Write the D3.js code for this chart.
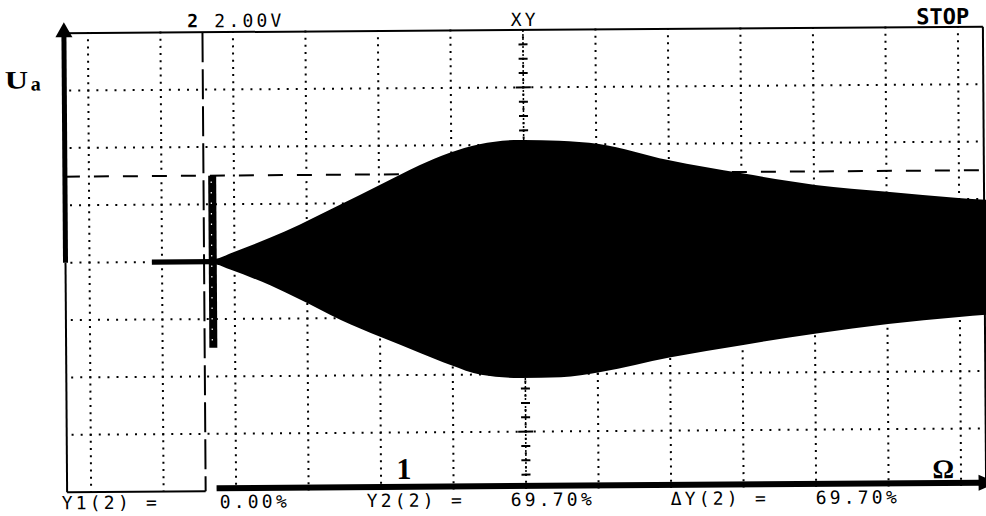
<!DOCTYPE html>
<html>
<head>
<meta charset="utf-8">
<script src="https://cdn.jsdelivr.net/npm/d3@7"></script>
<style>
  body { margin: 0; background: #fff; }
  svg { display: block; }
</style>
</head>
<body>
<script>
// screen divisions (x) and volts (y, 2.00 V/div)
var gridCols = d3.range(0, 13);
var gridRows = [-6, -4, -2, 0, 2, 4, 6];

// envelope of the response
var freqDiv  = [0.86, 1.71, 1.746, 1.94, 2.49, 2.90, 3.46, 4.01, 4.56, 4.97, 5.39, 5.94, 6.49, 7.04, 7.99, 9.01, 10.02, 11.01, 11.99, 12.37, 12.55];
var ampUpper = [0.09, 0.09, 0.10, 0.28, 0.82, 1.27, 1.95, 2.63, 3.31, 3.73, 4.03, 4.17, 4.13, 4.01, 3.43, 2.95, 2.53, 2.27, 2.04, 1.97, 1.95];
var ampLower = [0.09, 0.09, 0.10, 0.28, 0.84, 1.34, 2.06, 2.67, 3.24, 3.66, 4.01, 4.13, 4.11, 3.94, 3.45, 3.03, 2.65, 2.34, 2.11, 2.04, 2.02];

// cursors
var cursorLevel = 3.0;     // horizontal dashed cursor, V
var cursorPos = 1.58;      // vertical dashed cursor, div
var xyPos = 6;             // XY cursor, div
var markerPos = 1.70;      // start marker, div
var markerSpan = [-3, 3];  // V

var readouts = ["Y1(2) =", "0.00%", "Y2(2) =", "69.70%", "\u0394Y(2) =", "69.70%"];

var W = 986, H = 516;
var x = d3.scaleLinear().domain([0, 12]).range([89.5, 959.5]);
var y = d3.scaleLinear().domain([-8, 8]).range([489, 30]);

var svg = d3.select("body").append("svg")
    .attr("width", W)
    .attr("height", H);

svg.append("rect").attr("width", W).attr("height", H).attr("fill", "#fff");

// the scan is a little tilted
var g = svg.append("g").attr("transform", "rotate(-0.4,524,259)");

var left = 65.5, right = 984.5;
var colStep = (x(1) - x(0)) / 8, rowStep = (y(0) - y(2)) / 8;

// dotted grid
g.selectAll("line.hgrid")
    .data(gridRows)
    .enter().append("line")
    .attr("class", "hgrid")
    .attr("x1", x(-0.25) - 1).attr("x2", right)
    .attr("y1", function(d){ return y(d); })
    .attr("y2", function(d){ return y(d); })
    .attr("stroke", "#000").attr("stroke-width", 2)
    .attr("stroke-dasharray", "2 " + (colStep - 2));

g.selectAll("line.vgrid")
    .data(gridCols)
    .enter().append("line")
    .attr("class", "vgrid")
    .attr("x1", function(d){ return x(d); })
    .attr("x2", function(d){ return x(d); })
    .attr("y1", y(8) - 1).attr("y2", y(-8))
    .attr("stroke", "#000").attr("stroke-width", 2)
    .attr("stroke-dasharray", "2 " + (rowStep - 2));

// frame
g.append("line").attr("x1", left).attr("x2", right).attr("y1", y(8)).attr("y2", y(8))
    .attr("stroke", "#000").attr("stroke-width", 2);
g.append("line").attr("x1", right).attr("x2", right).attr("y1", y(8)).attr("y2", y(-8))
    .attr("stroke", "#000").attr("stroke-width", 2);
g.append("line").attr("x1", left).attr("x2", left).attr("y1", y(0)).attr("y2", y(-8))
    .attr("stroke", "#000").attr("stroke-width", 2);
g.append("line").attr("x1", left).attr("x2", x(cursorPos)).attr("y1", y(-8)).attr("y2", y(-8))
    .attr("stroke", "#000").attr("stroke-width", 2);

// cursors
g.append("line").attr("x1", left).attr("x2", right)
    .attr("y1", y(cursorLevel)).attr("y2", y(cursorLevel))
    .attr("stroke", "#000").attr("stroke-width", 2)
    .attr("stroke-dasharray", "15 14");

g.append("line").attr("x1", x(cursorPos)).attr("x2", x(cursorPos))
    .attr("y1", y(8)).attr("y2", y(-8))
    .attr("stroke", "#000").attr("stroke-width", 2)
    .attr("stroke-dasharray", "30 7");

g.append("line").attr("x1", x(xyPos)).attr("x2", x(xyPos))
    .attr("y1", y(8)).attr("y2", y(-7.6))
    .attr("stroke", "#000").attr("stroke-width", 1.5)
    .attr("stroke-dasharray", "2 2");

var xyTicks = d3.range(1, 32).map(function(q){ return 8 - q * 0.5; });
g.selectAll("line.xytick")
    .data(xyTicks)
    .enter().append("line")
    .attr("class", "xytick")
    .attr("x1", function(d){ return x(xyPos) - (d % 2 === 0 ? 7.5 : 4.5); })
    .attr("x2", function(d){ return x(xyPos) + (d % 2 === 0 ? 7.5 : 4.5); })
    .attr("y1", function(d){ return y(d); })
    .attr("y2", function(d){ return y(d); })
    .attr("stroke", "#000").attr("stroke-width", 2);

// trace envelope
var env = freqDiv.map(function(f, i){ return {f: f, up: ampUpper[i], lo: ampLower[i]}; });
var area = d3.area()
    .x(function(d){ return x(d.f); })
    .y0(function(d){ return y(-d.lo); })
    .y1(function(d){ return y(d.up); })
    .curve(d3.curveMonotoneX);
g.append("path").datum(env).attr("d", area).attr("fill", "#000");

// start marker
g.append("rect")
    .attr("x", x(markerPos) - 4).attr("width", 8)
    .attr("y", y(markerSpan[1])).attr("height", y(markerSpan[0]) - y(markerSpan[1]))
    .attr("fill", "#000");
g.append("line")
    .attr("x1", x(markerPos) - 1).attr("x2", x(markerPos) - 1)
    .attr("y1", y(markerSpan[1]) + 6).attr("y2", y(markerSpan[0]) - 4)
    .attr("stroke", "#fff").attr("stroke-width", 1.2)
    .attr("stroke-dasharray", "1.5 9");

// Ua axis arrow
g.append("rect").attr("x", left - 2.5).attr("width", 5)
    .attr("y", y(8) + 2).attr("height", y(0) - y(8) - 2)
    .attr("fill", "#000");
g.append("path")
    .attr("d", "M" + left + ",19 L" + (left - 8.5) + ",34 L" + (left + 8.5) + ",34 Z")
    .attr("fill", "#000");

// Omega axis arrow
g.append("rect").attr("x", 215).attr("width", 763)
    .attr("y", 483).attr("height", 6)
    .attr("fill", "#000");
g.append("path")
    .attr("d", "M977,478 L995,486 L977,494 Z")
    .attr("fill", "#000");

// labels
var mono = "'DejaVu Sans Mono', monospace";
var serif = "'Liberation Serif', 'Times New Roman', serif";

g.append("text").attr("x", 189).attr("y", 25)
    .attr("font-family", mono).attr("font-size", 18).attr("font-weight", "bold")
    .text("2");
g.append("text").attr("x", 216).attr("y", 25)
    .attr("font-family", mono).attr("font-size", 18).attr("letter-spacing", 3.2)
    .text("2.00V");
g.append("text").attr("x", x(xyPos) + 2).attr("y", 26)
    .attr("font-family", mono).attr("font-size", 18).attr("letter-spacing", 3.2)
    .attr("text-anchor", "middle")
    .text("XY");
g.append("text").attr("x", 918).attr("y", 27)
    .attr("font-family", mono).attr("font-size", 22).attr("font-weight", "bold")
    .text("STOP");

var readoutX = [60, 218, 365, 509, 669, 814];
g.selectAll("text.readout")
    .data(readouts)
    .enter().append("text")
    .attr("class", "readout")
    .attr("x", function(d, i){ return readoutX[i]; })
    .attr("y", 506)
    .attr("font-family", mono).attr("font-size", 18).attr("letter-spacing", 3.2)
    .style("white-space", "pre")
    .text(function(d){ return d; });

g.append("text").attr("transform", "translate(6,85) scale(1.3,1)")
    .attr("font-family", serif).attr("font-size", 25).attr("font-weight", "bold")
    .text("U");
g.append("text").attr("x", 32).attr("y", 87)
    .attr("font-family", serif).attr("font-size", 20).attr("font-weight", "bold")
    .text("a");

g.append("text").attr("x", 395).attr("y", 478)
    .attr("font-family", serif).attr("font-size", 30).attr("font-weight", "bold")
    .text("1");
g.append("text").attr("x", 931).attr("y", 481)
    .attr("font-family", serif).attr("font-size", 27).attr("font-weight", "bold")
    .text("\u03A9");
</script>
</body>
</html>
